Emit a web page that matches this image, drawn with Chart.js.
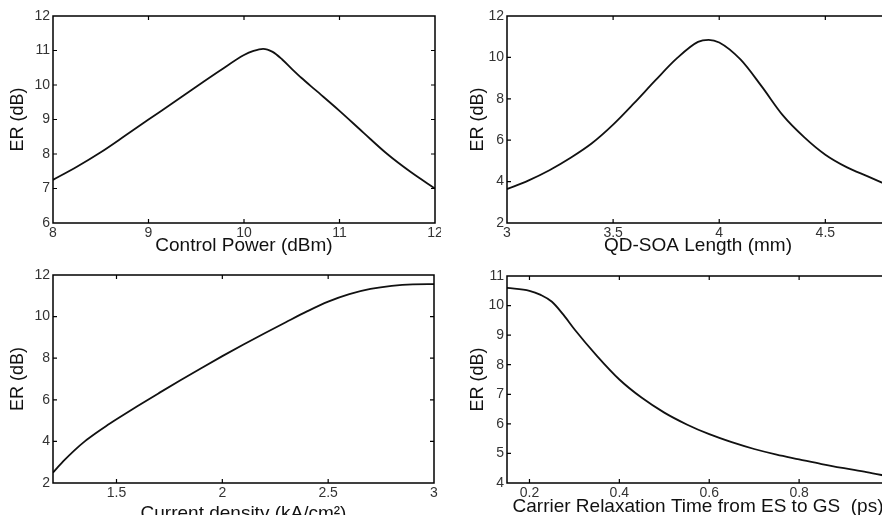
<!DOCTYPE html>
<html>
<head>
<meta charset="utf-8">
<script src="https://cdn.jsdelivr.net/npm/chart.js@4/dist/chart.umd.min.js"></script>
<style>
  html, body { margin: 0; padding: 0; background: #fff; }
  body { width: 882px; height: 515px; overflow: hidden; position: relative; }
  canvas { position: absolute; }
</style>
</head>
<body>
<canvas id="c1" width="441" height="255" style="left:0;top:0"></canvas>
<canvas id="c2" width="460" height="255" style="left:441px;top:0"></canvas>
<canvas id="c3" width="441" height="280" style="left:0;top:255px"></canvas>
<canvas id="c4" width="460" height="280" style="left:441px;top:255px"></canvas>
<script>
// ER vs control power
var powerX  = [8, 8.25, 8.5, 8.75, 9, 9.25, 9.5, 9.75, 10, 10.1, 10.2, 10.3, 10.4, 10.5, 10.6, 10.75, 11, 11.25, 11.5, 11.75, 12];
var powerER = [7.25, 7.63, 8.05, 8.52, 9.0, 9.47, 9.95, 10.42, 10.87, 10.99, 11.05, 10.96, 10.74, 10.47, 10.21, 9.85, 9.25, 8.62, 8.0, 7.47, 7.0];

// ER vs QD-SOA length
var lengthX  = [3.0, 3.1, 3.2, 3.3, 3.4, 3.5, 3.6, 3.7, 3.8, 3.9, 3.95, 4.0, 4.1, 4.2, 4.3, 4.4, 4.5, 4.6, 4.7, 4.8];
var lengthER = [3.64, 4.05, 4.55, 5.15, 5.85, 6.75, 7.8, 8.9, 9.95, 10.75, 10.85, 10.72, 9.9, 8.6, 7.2, 6.15, 5.3, 4.7, 4.25, 3.8];

// ER vs current density
var currentX  = [1.2, 1.25, 1.3, 1.35, 1.4, 1.45, 1.5, 1.6, 1.7, 1.8, 1.9, 2.0, 2.1, 2.2, 2.3, 2.4, 2.5, 2.6, 2.7, 2.8, 2.9, 3.0];
var currentER = [2.5, 3.06, 3.56, 4.0, 4.38, 4.73, 5.06, 5.7, 6.32, 6.93, 7.52, 8.1, 8.66, 9.2, 9.73, 10.25, 10.72, 11.08, 11.33, 11.48, 11.55, 11.56];

// ER vs carrier relaxation time
var relaxX  = [0.15, 0.2, 0.225, 0.25, 0.275, 0.3, 0.35, 0.4, 0.45, 0.5, 0.55, 0.6, 0.65, 0.7, 0.75, 0.8, 0.85, 0.9, 0.95, 1.0];
var relaxER = [10.6, 10.5, 10.36, 10.13, 9.7, 9.2, 8.3, 7.5, 6.88, 6.38, 5.98, 5.65, 5.38, 5.15, 4.96, 4.8, 4.64, 4.5, 4.37, 4.22];

var font = 'Arial, "Liberation Sans", Helvetica, sans-serif';

function plainTick(v) { return String(Math.round(v * 100) / 100); }

// matlab-like box with inward ticks on all four sides
var boxPlugin = {
  id: 'box',
  afterDraw: function(chart) {
    var ctx = chart.ctx, a = chart.chartArea;
    var xs = chart.scales.x, ys = chart.scales.y;
    ctx.save();
    ctx.strokeStyle = '#000';
    ctx.lineWidth = 1.5;
    ctx.strokeRect(a.left, a.top, a.right - a.left, a.bottom - a.top);
    ctx.lineWidth = 1.2;
    ctx.beginPath();
    xs.ticks.forEach(function(t) {
      var px = xs.getPixelForValue(t.value);
      if (px <= a.left + 1 || px >= a.right - 1) return;
      ctx.moveTo(px, a.bottom); ctx.lineTo(px, a.bottom - 4);
      ctx.moveTo(px, a.top); ctx.lineTo(px, a.top + 4);
    });
    ys.ticks.forEach(function(t) {
      var py = ys.getPixelForValue(t.value);
      if (py <= a.top + 1 || py >= a.bottom - 1) return;
      ctx.moveTo(a.left, py); ctx.lineTo(a.left + 4, py);
      ctx.moveTo(a.right, py); ctx.lineTo(a.right - 4, py);
    });
    ctx.stroke();
    ctx.restore();
  }
};

function makeChart(id, xs, ys, opt) {
  new Chart(document.getElementById(id), {
    type: 'line',
    data: {
      datasets: [{
        data: xs.map(function(x, i) { return {x: x, y: ys[i]}; }),
        borderColor: '#111',
        borderWidth: 1.8,
        pointRadius: 0,
        cubicInterpolationMode: 'monotone',
        fill: false
      }]
    },
    options: {
      responsive: false,
      animation: false,
      layout: { padding: opt.padding },
      plugins: { legend: { display: false }, tooltip: { enabled: false } },
      scales: {
        x: {
          type: 'linear',
          min: opt.xmin, max: opt.xmax,
          grid: { display: false, drawTicks: false },
          border: { display: false },
          ticks: { stepSize: opt.xstep, includeBounds: false, autoSkip: false, maxRotation: 0,
                   padding: 2, color: '#333', font: { family: font, size: 14 }, callback: plainTick },
          title: { display: true, text: opt.xtitle, color: '#111',
                   font: { family: font, size: 19, lineHeight: 1 }, padding: { top: 0, bottom: opt.xtitlePad } },
          afterFit: function(s) { s.height = opt.xh; s.paddingLeft = 0; s.paddingRight = 0; }
        },
        y: {
          type: 'linear',
          min: opt.ymin, max: opt.ymax,
          grid: { display: false, drawTicks: false },
          border: { display: false },
          ticks: { stepSize: opt.ystep, autoSkip: false, padding: 3, color: '#333',
                   font: { family: font, size: 14 }, callback: plainTick },
          title: { display: true, text: 'ER (dB)', color: '#111',
                   font: { family: font, size: 18, lineHeight: 1 }, padding: { top: opt.ytitlePad, bottom: 0 } },
          afterFit: function(s) { s.width = opt.yw; s.paddingTop = 0; s.paddingBottom = 0; }
        }
      }
    },
    plugins: [boxPlugin]
  });
}

makeChart('c1', powerX, powerER, {
  xmin: 8, xmax: 12, xstep: 1, ymin: 6, ymax: 12, ystep: 1,
  xtitle: 'Control Power (dBm)',
  padding: { top: 16, right: 6, left: 0, bottom: 0 }, yw: 53, xh: 32, xtitlePad: 0, ytitlePad: 9
});
makeChart('c2', lengthX, lengthER, {
  xmin: 3, xmax: 4.8, xstep: 0.5, ymin: 2, ymax: 12, ystep: 2,
  xtitle: 'QD-SOA Length (mm)',
  padding: { top: 16, right: 12, left: 0, bottom: 0 }, yw: 66, xh: 32, xtitlePad: 0, ytitlePad: 28
});
makeChart('c3', currentX, currentER, {
  xmin: 1.2, xmax: 3, xstep: 0.5, ymin: 2, ymax: 12, ystep: 2,
  xtitle: 'Current density (kA/cm\u00B2)',
  padding: { top: 20, right: 7, left: 0, bottom: 0 }, yw: 53, xh: 52, xtitlePad: 12, ytitlePad: 9
});
makeChart('c4', relaxX, relaxER, {
  xmin: 0.15, xmax: 1.0, xstep: 0.2, ymin: 4, ymax: 11, ystep: 1,
  xtitle: 'Carrier Relaxation Time from ES to GS  (ps)',
  padding: { top: 21, right: 12, left: 0, bottom: 0 }, yw: 66, xh: 52, xtitlePad: 19, ytitlePad: 28
});
</script>
</body>
</html>
